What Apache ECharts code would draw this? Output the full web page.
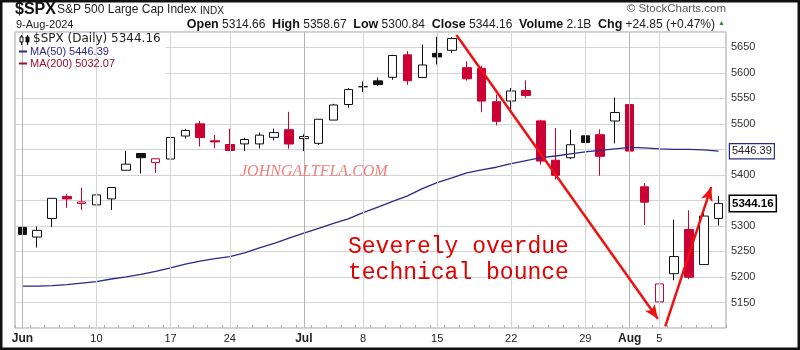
<!DOCTYPE html>
<html>
<head>
<meta charset="utf-8">
<script src="https://cdn.jsdelivr.net/npm/echarts@6/dist/echarts.min.js"></script>
<style>
html,body{margin:0;padding:0;background:#fff;}
#c{width:800px;height:350px;}
</style>
</head>
<body>
<div id="c"></div>
<script>
// ---- data ----
const dates = ['Jun 3','Jun 4','Jun 5','Jun 6','Jun 7','Jun 10','Jun 11','Jun 12','Jun 13','Jun 14',
  'Jun 17','Jun 18','Jun 20','Jun 21','Jun 24','Jun 25','Jun 26','Jun 27','Jun 28',
  'Jul 1','Jul 2','Jul 3','Jul 5','Jul 8','Jul 9','Jul 10','Jul 11','Jul 12',
  'Jul 15','Jul 16','Jul 17','Jul 18','Jul 19','Jul 22','Jul 23','Jul 24','Jul 25','Jul 26',
  'Jul 29','Jul 30','Jul 31','Aug 1','Aug 2','Aug 5','Aug 6','Aug 7','Aug 8','Aug 9'];
const opens  = [5297.15,5278.24,5314.48,5357.80,5343.81,5341.22,5353.00,5409.13,5441.93,5424.08,
  5431.11,5476.15,5499.99,5466.77,5459.58,5460.73,5460.71,5473.59,5488.48,
  5471.08,5461.84,5507.44,5537.91,5572.75,5584.24,5591.26,5635.21,5590.76,
  5638.16,5644.09,5610.07,5608.56,5543.37,5544.75,5565.30,5505.84,5428.70,5433.67,
  5476.55,5478.73,5505.59,5537.84,5376.63,5151.14,5206.42,5293.13,5224.28,5314.66];
const highs  = [5302.11,5298.80,5354.16,5362.35,5375.08,5365.79,5375.95,5447.25,5441.93,5432.39,
  5488.50,5490.38,5505.53,5478.31,5490.66,5472.88,5483.14,5490.81,5523.64,
  5479.55,5509.69,5539.27,5570.33,5583.11,5590.75,5635.39,5642.45,5655.56,
  5670.39,5669.67,5622.49,5614.05,5557.50,5570.36,5585.34,5508.04,5491.59,5488.32,
  5487.74,5489.46,5551.51,5566.16,5383.89,5250.89,5312.34,5330.64,5328.03,5358.67];
const lows   = [5234.32,5257.63,5297.64,5335.36,5331.33,5331.52,5331.33,5409.13,5402.51,5403.75,
  5420.40,5471.32,5455.56,5452.03,5447.59,5446.56,5451.87,5467.54,5451.12,
  5446.53,5458.43,5507.42,5531.63,5562.51,5574.57,5586.44,5576.53,5590.44,
  5616.27,5639.02,5584.81,5522.81,5497.04,5529.04,5550.90,5419.98,5390.95,5430.70,
  5444.44,5398.20,5461.67,5410.42,5302.03,5119.26,5193.56,5195.54,5224.28,5300.84];
const closes = [5283.40,5291.34,5354.03,5352.96,5346.99,5360.79,5375.32,5421.03,5433.74,5431.60,
  5473.23,5487.03,5473.17,5464.62,5447.87,5469.30,5477.90,5482.87,5460.48,
  5475.09,5509.01,5537.02,5567.19,5572.85,5576.98,5633.91,5584.54,5615.35,
  5631.22,5667.20,5588.27,5544.59,5505.00,5564.41,5555.74,5427.13,5399.22,5459.10,
  5463.54,5436.44,5522.30,5446.68,5346.56,5186.33,5240.03,5199.50,5319.31,5344.16];
const priorClose = 5277.51;
const ma50 = [5182,5182,5183,5185,5188,5191,5196,5200,5205,5211,
  5218,5225,5231,5236,5240,5247,5257,5266,5276,
  5286,5295,5305,5314,5326,5337,5348,5359,5373,
  5385,5394,5404,5410,5415,5422,5428,5434,5437,5441,
  5445,5448,5451,5454,5453,5451,5450,5450,5449,5446.39];
const ma200Last = 5032.07;
const tickLabels = {'Jun 3':'Jun','Jun 10':'10','Jun 17':'17','Jun 24':'24','Jul 1':'Jul','Jul 8':'8',
  'Jul 15':'15','Jul 22':'22','Jul 29':'29','Aug 1':'Aug','Aug 5':'5'};
const monthStarts = ['Jun 3','Jul 1','Aug 1'];
// annotation arrows in data space [dayIndex, price]
const arrowPaths = [[[29.3,5674],[42.9,5118]],[[43.4,5103],[46.5,5376]]];
const yLabelsHidden = [5100,5350,5450];

const RED = '#cc0033', BLK = '#111111', NAVY = '#2b2b86';

const candleData = opens.map((o,i)=>{
  const c = closes[i];
  const prev = i===0 ? priorClose : closes[i-1];
  const col = c < prev ? RED : BLK;
  const fill = c > o ? '#ffffff' : col;
  return {value:[o,c,lows[i],highs[i]], itemStyle:{color:fill,color0:fill,borderColor:col,borderColor0:col,borderWidth:1}};
});

const chart = echarts.init(document.getElementById('c'), null, {renderer:'canvas'});
const lastClose = closes[closes.length-1];
const lastMa = ma50[ma50.length-1];
const HIDDEN = {color:'rgba(0,0,0,0)',width:0};
const GRIDC = '#d4d4d4';

const option = {
  animation:false,
  backgroundColor:'#ffffff',
  grid:{left:15,right:74,top:32,bottom:22,show:true,borderColor:'#a0a0a0',borderWidth:1},
  xAxis:[{
    type:'category', data:dates, boundaryGap:true,
    axisLine:{show:false},
    axisTick:{show:true,inside:true,length:3,interval:0,lineStyle:{color:'#b0b0b0'}},
    splitLine:{show:false},
    axisLabel:{interval:0,margin:5,color:'#222',fontSize:11,fontFamily:'Arial',
      formatter:(v)=>{const t=tickLabels[v]; if(!t) return ''; return monthStarts.includes(v)?'{m|'+t+'}':t;},
      rich:{m:{fontWeight:'bold',fontSize:12,fontFamily:'Arial',color:'#222'}}}
  },{
    type:'value', min:-0.5, max:dates.length-0.5, show:false
  }],
  yAxis:{type:'value',position:'right',min:5100,max:5680,interval:50,
    axisLine:{show:false},axisTick:{show:false},
    splitLine:{show:true,lineStyle:{color:GRIDC,width:1,type:'solid'}},
    axisLabel:{margin:5,color:'#333',fontSize:11,fontFamily:'Arial',
      formatter:(v)=> (v%50===0 && v<=5650 && !yLabelsHidden.includes(v)) ? String(v) : ''}
  },
  series:[
    {name:'grid', type:'line', data:ma50, symbol:'none', silent:true, z:1,
     lineStyle:HIDDEN, tooltip:{show:false},
     markLine:{silent:true, symbol:'none', label:{show:false}, animation:false,
       data:Object.keys(tickLabels).map(d=>({xAxis:d, lineStyle:{type:'solid',width:1,color: monthStarts.includes(d)?'#b4b4b4':GRIDC}}))}
    },
    {name:'$SPX', type:'candlestick', data:candleData, barWidth:9, z:3,
     markLine:{silent:true, symbol:'none', animation:false,
       data:[{yAxis:lastClose}], lineStyle:HIDDEN,
       label:{show:true,position:'end',distance:4,formatter:()=>lastClose.toFixed(2),
         backgroundColor:'#fff',borderColor:'#000',borderWidth:1.5,padding:[2,2,1,2],
         fontWeight:'bold',fontSize:11.5,fontFamily:'Arial',color:'#000'}}
    },
    {name:'MA(50)', type:'line', data:ma50, symbol:'none', z:4, silent:true,
     lineStyle:{color:NAVY,width:1.3},
     markLine:{silent:true, symbol:'none', animation:false,
       data:[{yAxis:lastMa}], lineStyle:HIDDEN,
       label:{show:true,position:'end',distance:4,formatter:()=>lastMa.toFixed(2),
         backgroundColor:'#fff',borderColor:NAVY,borderWidth:1.2,padding:[2,2,1,2],
         fontSize:11,fontFamily:'Arial',color:'#222'}}
    },
    {name:'arrows', type:'line', xAxisIndex:1, data:[], z:10, silent:true,
     markLine:{silent:true, animation:false, symbol:['none','arrow'], symbolSize:[9,14],
       lineStyle:{color:'#ee1111',width:2.5,type:'solid'}, label:{show:false},
       data:arrowPaths.map(p=>[{coord:p[0]},{coord:p[1]}])}
    }
  ],
  graphic:[
    {type:'text',left:15,top:2,style:{text:'$SPX',font:'bold 16px Arial',fill:'#111'}},
    {type:'text',left:57,top:4,style:{text:'S&P 500 Large Cap Index',font:'12px Arial',fill:'#222'}},
    {type:'text',left:200,top:6,style:{text:'INDX',font:'10px Arial',fill:'#222'}},
    {type:'text',left:16,top:19,style:{text:'9-Aug-2024',font:'11px Arial',fill:'#222'}},
    {type:'text',right:85,top:18,style:{text:'{b|Open} 5314.66  {b|High} 5358.67  {b|Low} 5300.84  {b|Close} 5344.16  {b|Volume} 2.1B  {b|Chg} +24.85 (+0.47%)',
      font:'12px Arial',fill:'#222',rich:{b:{font:'bold 12.5px Arial',fill:'#111'}}}},
    {type:'text',left:718,top:20,style:{text:'▲',font:'7px Arial',fill:'#2e8b2e'}},
    {type:'text',right:74,top:3,style:{text:'© StockCharts.com',font:'11.5px Arial',fill:'#555'}},
    {type:'rect',shape:{x:16,y:33,width:150,height:45},style:{fill:'#fff'},z:5},
    {type:'line',shape:{x1:21.5,y1:35,x2:21.5,y2:45},style:{stroke:'#111',lineWidth:1},z:6},
    {type:'rect',shape:{x:20,y:37,width:3,height:5},style:{fill:'#fff',stroke:'#111',lineWidth:1},z:6},
    {type:'line',shape:{x1:27.5,y1:35,x2:27.5,y2:45},style:{stroke:'#111',lineWidth:1},z:6},
    {type:'rect',shape:{x:26,y:37,width:3,height:5},style:{fill:'#111',stroke:'#111',lineWidth:1},z:6},
    {type:'text',left:33,top:33,z:6,style:{text:'$SPX (Daily) 5344.16',font:'12px "DejaVu Sans"',fill:'#222'}},
    {type:'line',shape:{x1:19,y1:51.5,x2:27,y2:51.5},style:{stroke:NAVY,lineWidth:2},z:6},
    {type:'text',left:30,top:46,z:6,style:{text:'MA(50) 5446.39',font:'11px Arial',fill:NAVY}},
    {type:'line',shape:{x1:19,y1:63.5,x2:27,y2:63.5},style:{stroke:'#a0102a',lineWidth:2},z:6},
    {type:'text',left:30,top:58,z:6,style:{text:'MA(200) '+ma200Last.toFixed(2),font:'11px Arial',fill:'#a0102a'}},
    {type:'text',left:240,top:164,z:6,style:{text:'JOHNGALTFLA.COM',font:'italic 16px "Liberation Serif"',fill:'#f08080'}},
    {type:'text',left:348,top:235,z:6,style:{text:'Severely overdue',font:'23px "Liberation Mono"',fill:'#e00000'}},
    {type:'text',left:348,top:261,z:6,style:{text:'technical bounce',font:'23px "Liberation Mono"',fill:'#e00000'}},
    {type:'rect',shape:{x:1,y:1,width:798,height:348},style:{fill:'none',stroke:'#111',lineWidth:3},z:20}
  ]
};
chart.setOption(option);
</script>
</body>
</html>
